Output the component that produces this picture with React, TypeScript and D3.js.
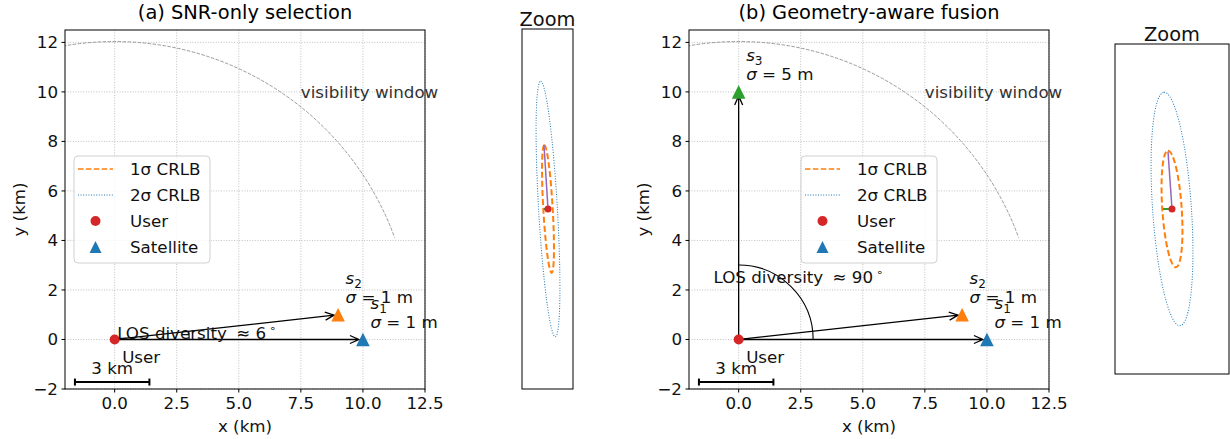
import React from 'react';
import * as d3 from 'd3';

// main axes ticks and extent (km)
const xTicks = [0, 2.5, 5, 7.5, 10, 12.5];
const yTicks = [-2, 0, 2, 4, 6, 8, 10, 12];
const axisDomain = [-2, 12.5];

// satellites
const satIds = ['1', '2', '3'];
const satX = [10, 9, 0];
const satY = [0, 1, 10];
const satSigma = [1, 1, 5];

// panels
const panelTitles = ['(a) SNR-only selection', '(b) Geometry-aware fusion'];
const panelSats = [[0, 1], [0, 1, 2]];
const losDeg = ['6', '90'];
const losArcEnd = [6.34, 90];
const losLabelX = [3.3, 2.4];
const losLabelY = [0.26, 2.52];
const losArcRadius = 3;
const visRadius = 12;
const visAngles = [20, 100];
const visLabel = [7.5, 10];
const scaleBarX = [-1.6, 1.4];
const scaleBarY = -1.72;

const legendLabels = ['1σ CRLB', '2σ CRLB', 'User', 'Satellite'];

// zoom insets (local units around the user)
const insetXDomain = [[-2.6, 2.5], [-5.7, 5.7]];
const insetYDomain = [[-18, 18], [-16.5, 16.5]];
const insetMajor = [6.4, 5.85];
const insetMinor = [0.47, 0.97];
const insetTilt = [93.3, 93.9];
const insetBiasX = [-0.4, -0.4];
const insetBiasY = [6.4, 5.75];
const insetGreenX = [-0.4, -0.9];

const FONT = 'DejaVu Sans, sans-serif';
const C = {blue: '#1f77b4', orange: '#ff7f0e', green: '#2ca02c', red: '#d62728', purple: '#9467bd'};
const satColors = [C.blue, C.orange, C.green];

const arrow = (x1, y1, x2, y2, key) => {
    const dx = x2 - x1, dy = y2 - y1, len = Math.hypot(dx, dy);
    const ux = dx / len, uy = dy / len;
    const sx = x1 + ux * 3, sy = y1 + uy * 3, ex = x2 - ux * 4, ey = y2 - uy * 4;
    const hl = 9, hw = 4;
    const bx = ex - ux * hl, by = ey - uy * hl;
    const d = `M${sx},${sy}L${ex},${ey}M${bx - uy * hw},${by + ux * hw}L${ex},${ey}L${bx + uy * hw},${by - ux * hw}`;
    return <path key={key} d={d} fill="none" stroke="#000" strokeWidth={1.3}/>;
};

const triangle = (cx, cy, s) => `M${cx},${cy - s}L${cx - s},${cy + s}L${cx + s},${cy + s}Z`;

const Panel = ({idx, left}) => {
    const top = 30, bottom = 389, width = 360;
    const x = d3.scaleLinear().domain(axisDomain).range([left, left + width]);
    const y = d3.scaleLinear().domain(axisDomain).range([bottom, top]);
    const cx = (left + left + width) / 2;
    const k = x(1) - x(0);
    const clipId = `clip${idx}`;

    const vis = d3.path();
    vis.arc(x(0), y(0), x(visRadius) - x(0), -visAngles[1] * Math.PI / 180, -visAngles[0] * Math.PI / 180, false);
    const los = d3.path();
    los.arc(x(0), y(0), x(losArcRadius) - x(0), 0, -losArcEnd[idx] * Math.PI / 180, true);

    const legendW = 136, legendH = 107;
    const lx = idx === 0 ? left + 9 : cx - legendW / 2;
    const ly = (top + bottom) / 2 - legendH / 2;

    return (
        <g fontFamily={FONT}>
            <defs>
                <clipPath id={clipId}><rect x={left} y={top} width={width} height={bottom - top}/></clipPath>
            </defs>
            <text x={cx} y={19} textAnchor="middle" fontSize={19.4}>{panelTitles[idx]}</text>

            <g className="grid" stroke="#b0b0b0" strokeWidth={0.8} strokeDasharray="1,1.6">
                {xTicks.map(t => <line key={'gx' + t} x1={x(t)} x2={x(t)} y1={top} y2={bottom}/>)}
                {yTicks.map(t => <line key={'gy' + t} x1={left} x2={left + width} y1={y(t)} y2={y(t)}/>)}
            </g>

            <g clipPath={`url(#${clipId})`}>
                <path d={vis.toString()} fill="none" stroke="#999" strokeWidth={1} strokeDasharray="3.5,1.5"/>
                {panelSats[idx].map(s => arrow(x(0), y(0), x(satX[s]), y(satY[s]), 'a' + s))}
                <path d={los.toString()} fill="none" stroke="#000" strokeWidth={1.1}/>
                {panelSats[idx].map(s => <path key={'m' + s} d={triangle(x(satX[s]), y(satY[s]), 6.8)} fill={satColors[s]}/>)}
                <circle cx={x(0)} cy={y(0)} r={5} fill={C.red}/>
                {/* scale bar */}
                <g stroke="#000" strokeWidth={2}>
                    <line x1={x(scaleBarX[0])} x2={x(scaleBarX[1])} y1={y(scaleBarY)} y2={y(scaleBarY)}/>
                    <line x1={x(scaleBarX[0])} x2={x(scaleBarX[0])} y1={y(scaleBarY) - 3.5} y2={y(scaleBarY) + 3.5}/>
                    <line x1={x(scaleBarX[1])} x2={x(scaleBarX[1])} y1={y(scaleBarY) - 3.5} y2={y(scaleBarY) + 3.5}/>
                </g>
            </g>

            <text x={x((scaleBarX[0] + scaleBarX[1]) / 2)} y={y(scaleBarY) - 8} textAnchor="middle" fontSize={16.7} fill="#111">3 km</text>
            <text x={x(0) + 7.5} y={y(0) + 23.5} fontSize={16.7} fill="#111">User</text>
            <text x={x(visLabel[0])} y={y(visLabel[1])} dy="0.35em" fontSize={16.7} fill="#333">visibility window</text>
            <text x={x(losLabelX[idx])} y={y(losLabelY[idx])} dy="0.35em" textAnchor="middle" fontSize={16.7} fill="#111">
                LOS diversity <tspan dx={4}>≈ {losDeg[idx]}</tspan><tspan dx={3} dy={-7} fontSize={11}>∘</tspan>
            </text>
            {panelSats[idx].map(s => {
                const tx = x(satX[s]) + 7.5, ty = y(satY[s]) - 11.5;
                return <g key={'l' + s} fontSize={16.7} fill="#111">
                    <text x={tx} y={ty - 19}><tspan fontStyle="italic">s</tspan><tspan dy={4} fontSize={12}>{satIds[s]}</tspan></text>
                    <text x={tx} y={ty}><tspan fontStyle="italic">σ</tspan> = {satSigma[s]} m</text>
                </g>;
            })}

            {/* legend */}
            <g>
                <rect x={lx} y={ly} width={legendW} height={legendH} rx={4} fill="#fff" fillOpacity={0.8} stroke="#d0d0d0"/>
                {legendLabels.map((lab, i) => {
                    const ry = ly + 13 + i * 26;
                    const hx = lx + 4;
                    let handle;
                    if (i === 0) handle = <line x1={hx} x2={hx + 35} y1={ry} y2={ry} stroke={C.orange} strokeWidth={1.5} strokeDasharray="5.5,2.4"/>;
                    else if (i === 1) handle = <line x1={hx} x2={hx + 35} y1={ry} y2={ry} stroke={C.blue} strokeWidth={1} strokeDasharray="1,1.6"/>;
                    else if (i === 2) handle = <circle cx={hx + 17.5} cy={ry} r={5} fill={C.red}/>;
                    else handle = <path d={triangle(hx + 17.5, ry, 6)} fill={C.blue}/>;
                    return <g key={lab}>
                        {handle}
                        <text x={lx + 56} y={ry} dy="0.35em" fontSize={16.7} fill="#111">{lab}</text>
                    </g>;
                })}
            </g>

            {/* axes */}
            <rect x={left} y={top} width={width} height={bottom - top} fill="none" stroke="#000" strokeWidth={1}/>
            {xTicks.map(t => <g key={'tx' + t}>
                <line x1={x(t)} x2={x(t)} y1={bottom} y2={bottom + 3.5} stroke="#000"/>
                <text x={x(t)} y={bottom + 20} textAnchor="middle" fontSize={16.7} fill="#111">{d3.format('.1f')(t)}</text>
            </g>)}
            {yTicks.map(t => <g key={'ty' + t}>
                <line x1={left - 3.5} x2={left} y1={y(t)} y2={y(t)} stroke="#000"/>
                <text x={left - 7} y={y(t)} dy="0.35em" textAnchor="end" fontSize={16.7} fill="#111">{d3.format('d')(t).replace('-', '\u2212')}</text>
            </g>)}
            <text x={cx} y={432} textAnchor="middle" fontSize={16.7} fill="#111">x (km)</text>
            <text transform={`translate(${left - 40},${(top + bottom) / 2}) rotate(-90)`} textAnchor="middle" fontSize={16.7} fill="#111">y (km)</text>
        </g>
    );
};

const Inset = ({idx, left, right, top, bottom}) => {
    const x = d3.scaleLinear().domain(insetXDomain[idx]).range([left, right]);
    const y = d3.scaleLinear().domain(insetYDomain[idx]).range([bottom, top]);
    const k = x(1) - x(0);
    const ux = x(0), uy = y(0);
    return (
        <g fontFamily={FONT}>
            <text x={(left + right) / 2} y={top - 3} textAnchor="middle" fontSize={19.4} fill="#111">Zoom</text>
            <ellipse cx={ux} cy={uy} rx={2 * insetMajor[idx] * k} ry={2 * insetMinor[idx] * k}
                     transform={`rotate(${-insetTilt[idx]},${ux},${uy})`} fill="none" stroke={C.blue} strokeWidth={1} strokeDasharray="1,1.6"/>
            <ellipse cx={ux} cy={uy} rx={insetMajor[idx] * k} ry={insetMinor[idx] * k}
                     transform={`rotate(${-insetTilt[idx]},${ux},${uy})`} fill="none" stroke={C.orange} strokeWidth={2} strokeDasharray="6,3"/>
            <line x1={ux} y1={uy} x2={x(insetBiasX[idx])} y2={y(insetBiasY[idx])} stroke={C.purple} strokeWidth={1.5}/>
            <line x1={x(insetGreenX[idx])} y1={uy} x2={ux} y2={uy} stroke={C.green} strokeWidth={2}/>
            <circle cx={ux} cy={uy} r={3.5} fill={C.red}/>
            <rect x={left} y={top} width={right - left} height={bottom - top} fill="none" stroke="#000" strokeWidth={1}/>
        </g>
    );
};

export default function App() {
    return (
        <svg width={1230} height={439} style={{position: 'absolute', left: 0, top: 0, background: '#fff'}}>
            <rect width={1230} height={439} fill="#fff"/>
            <Panel idx={0} left={65}/>
            <Inset idx={0} left={522} right={573} top={29} bottom={389}/>
            <Panel idx={1} left={689}/>
            <Inset idx={1} left={1115} right={1229} top={44} bottom={374}/>
        </svg>
    );
}
